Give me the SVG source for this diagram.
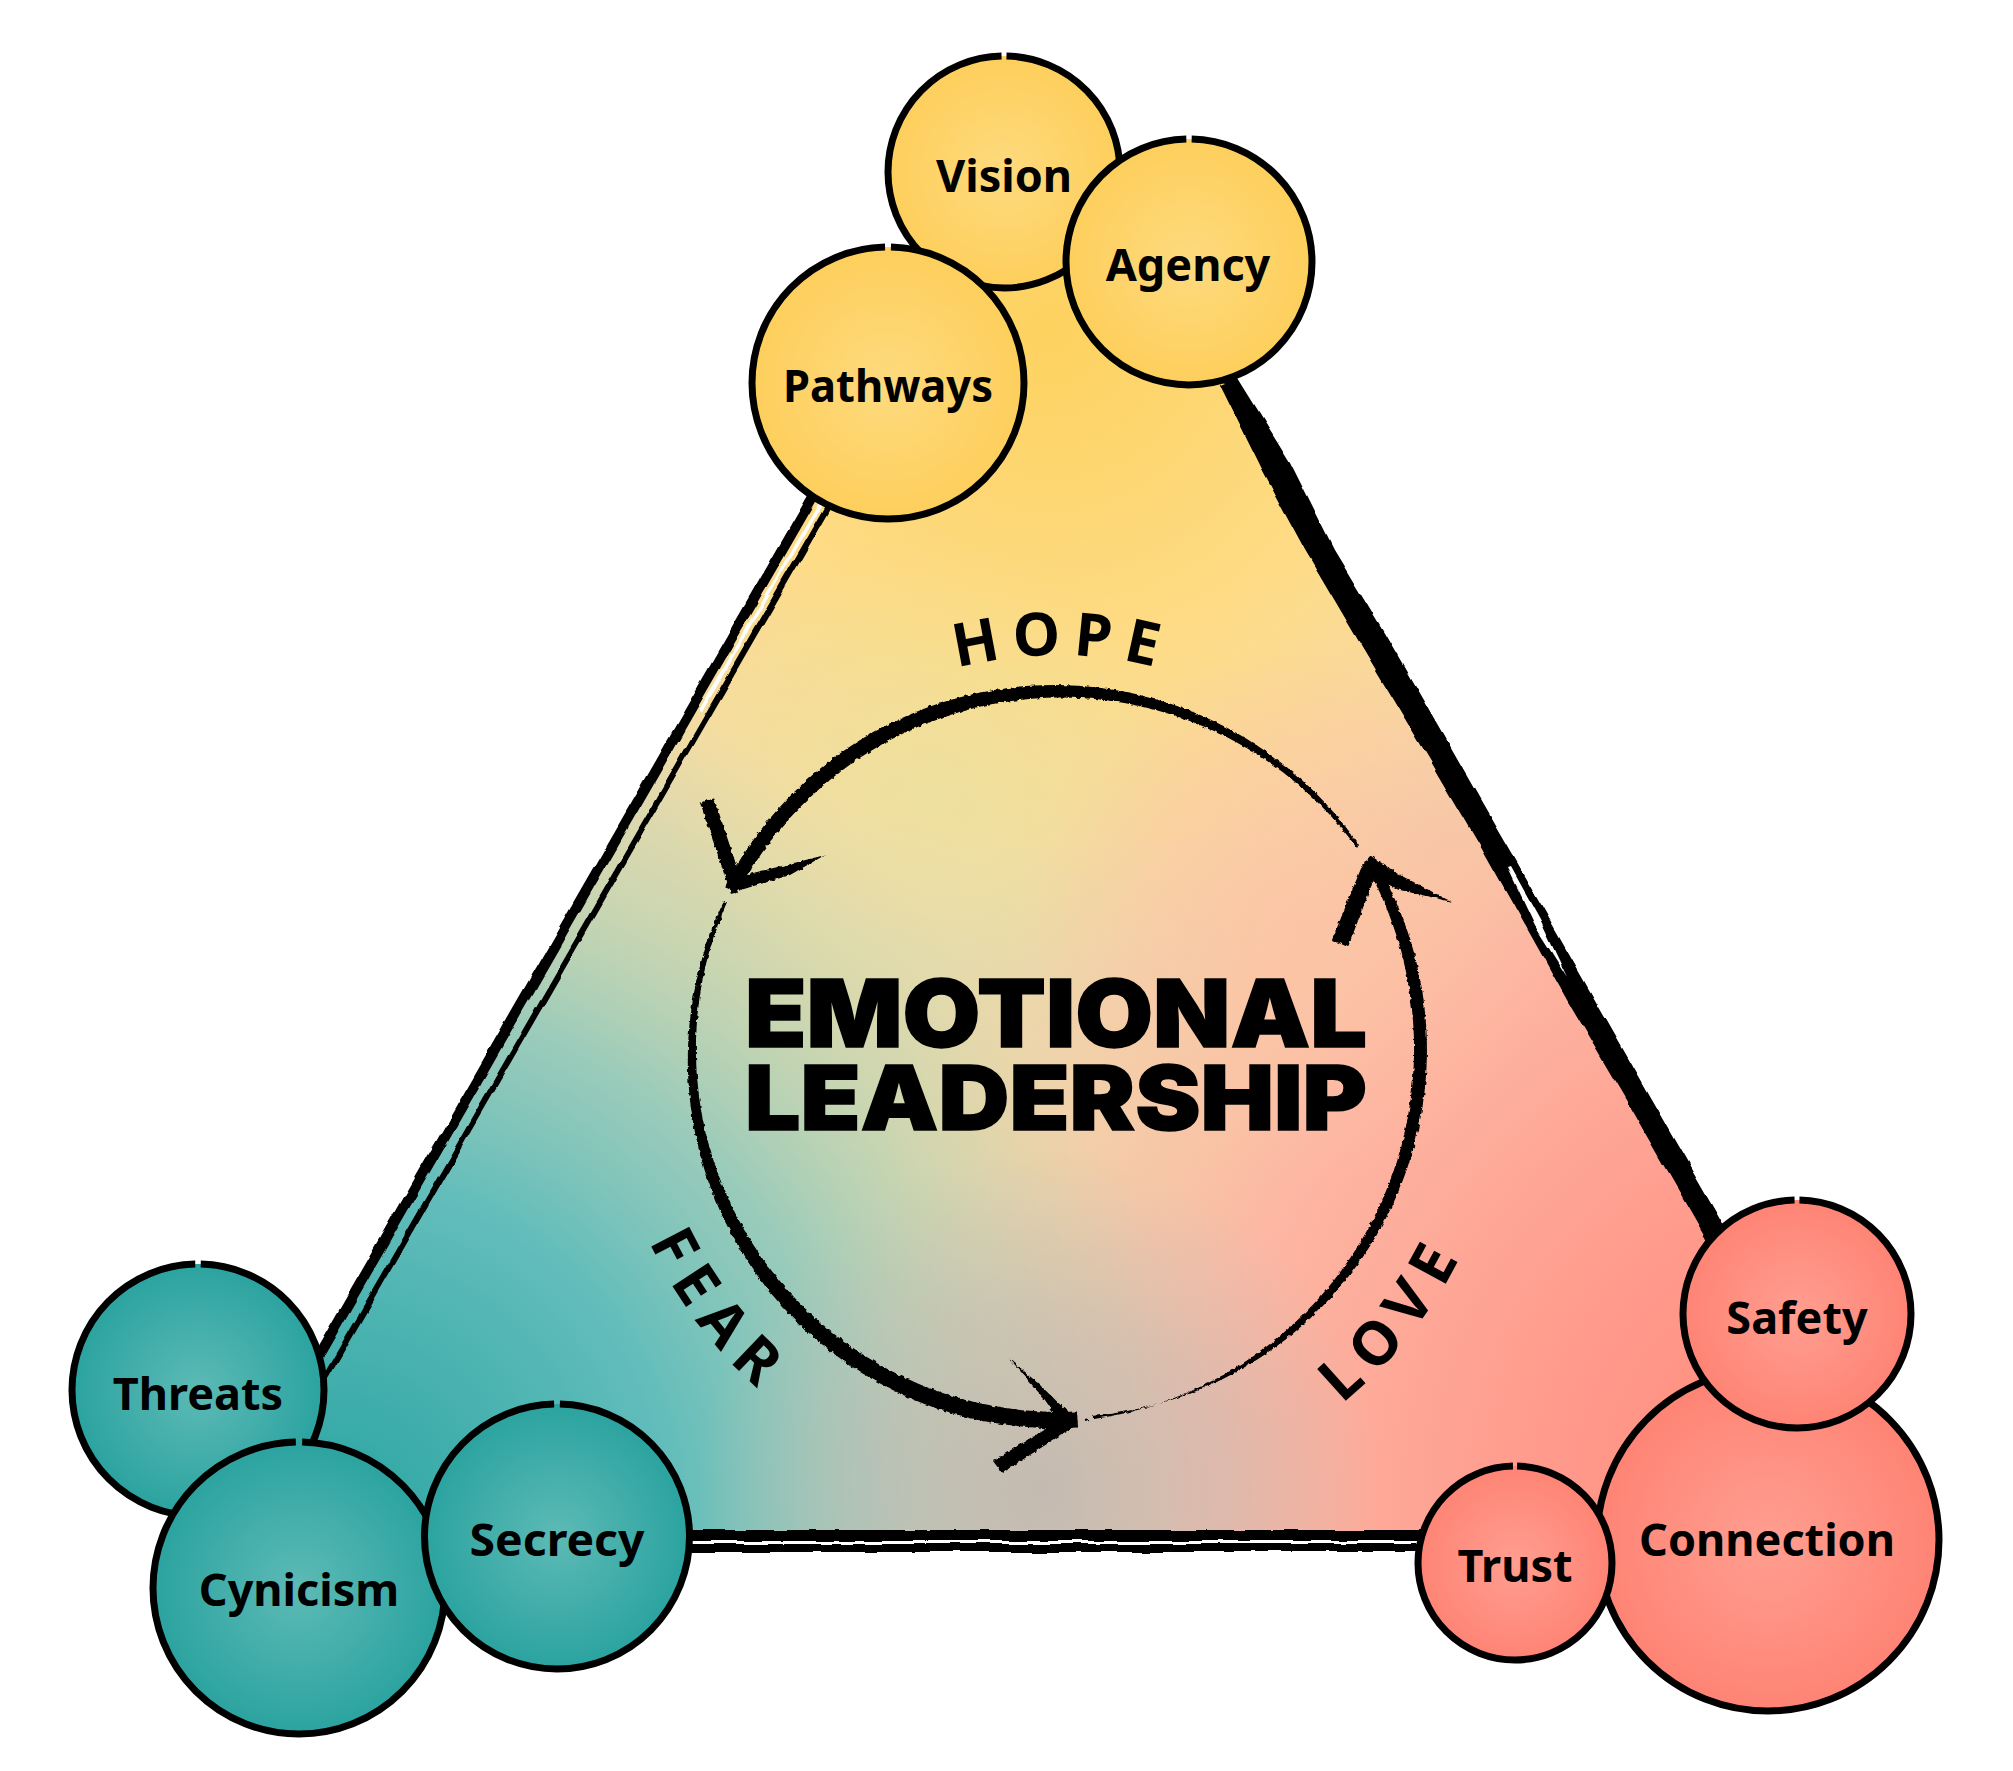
<svg xmlns="http://www.w3.org/2000/svg" width="2013" height="1771" viewBox="0 0 2013 1771">
<style>
.c{stroke:#000;stroke-width:7;stroke-dasharray:99.3 .7;stroke-dashoffset:24.65}
.l{font-family:"Noto Sans","DejaVu Sans",sans-serif;font-weight:700;font-size:45px;fill:#000;text-anchor:middle}
.a{font-family:"Noto Sans","DejaVu Sans",sans-serif;font-weight:700;font-size:60px;letter-spacing:12px;fill:#000;text-anchor:middle}
.t{font-family:Inter,"Liberation Sans",sans-serif;font-weight:900;fill:#000;stroke:#000;stroke-width:1.5px}
.k{fill:#000}
.e{fill:none;stroke:#000}
</style>
<defs>
<polygon id="tri" points="1053,81 1888,1536 215,1536"/>
<radialGradient id="gy" gradientUnits="userSpaceOnUse" cx="1050" cy="330" r="640"><stop offset="0" stop-color="#FDD25F"/><stop offset=".5" stop-color="#FEDB85"/><stop offset=".8" stop-color="#FBDD98" stop-opacity=".75"/><stop offset="1" stop-color="#F6DFA5" stop-opacity="0"/></radialGradient>
<radialGradient id="gs" gradientUnits="userSpaceOnUse" cx="1860" cy="1500" r="1050"><stop offset="0" stop-color="#FF8676"/><stop offset=".35" stop-color="#FF9E90"/><stop offset=".62" stop-color="#FFB3A2" stop-opacity=".9"/><stop offset=".85" stop-color="#FFC8A5" stop-opacity=".45"/><stop offset="1" stop-color="#FFD09A" stop-opacity="0"/></radialGradient>
<radialGradient id="gt" gradientUnits="userSpaceOnUse" cx="330" cy="1520" r="860"><stop offset="0" stop-color="#2BA5A2"/><stop offset=".4" stop-color="#62BDBB"/><stop offset=".62" stop-color="#8FC9BC" stop-opacity=".85"/><stop offset=".82" stop-color="#B5D4B3" stop-opacity=".45"/><stop offset="1" stop-color="#CFDAA8" stop-opacity="0"/></radialGradient>
<radialGradient id="gm" gradientUnits="userSpaceOnUse" cx="1040" cy="1490" r="340"><stop offset="0" stop-color="#C2B8B2" stop-opacity=".9"/><stop offset=".55" stop-color="#C4BCB4" stop-opacity=".55"/><stop offset="1" stop-color="#C8C0B4" stop-opacity="0"/></radialGradient>
<radialGradient id="gg" gradientUnits="userSpaceOnUse" cx="930" cy="790" r="260"><stop offset="0" stop-color="#E6E3A3" stop-opacity=".55"/><stop offset="1" stop-color="#E6E3A3" stop-opacity="0"/></radialGradient>
<radialGradient id="gp" gradientUnits="userSpaceOnUse" cx="1290" cy="920" r="270"><stop offset="0" stop-color="#FFC4A4" stop-opacity=".7"/><stop offset="1" stop-color="#FFC4A4" stop-opacity="0"/></radialGradient>
<radialGradient id="cy"><stop offset="0" stop-color="#FEDA7E"/><stop offset="1" stop-color="#FDCF5C"/></radialGradient>
<radialGradient id="ct"><stop offset="0" stop-color="#5DBAB5"/><stop offset="1" stop-color="#2BA3A0"/></radialGradient>
<radialGradient id="cs"><stop offset="0" stop-color="#FF9E90"/><stop offset="1" stop-color="#FE8475"/></radialGradient>
<filter id="rough" filterUnits="userSpaceOnUse" x="0" y="0" width="2013" height="1771"><feTurbulence type="fractalNoise" baseFrequency=".22" numOctaves="2" seed="4"/><feDisplacementMap in="SourceGraphic" scale="4" xChannelSelector="R" yChannelSelector="G"/></filter>
<filter id="wob" filterUnits="userSpaceOnUse" x="0" y="0" width="2013" height="1771"><feTurbulence type="fractalNoise" baseFrequency=".03" numOctaves="2" seed="9"/><feDisplacementMap in="SourceGraphic" scale="6" xChannelSelector="R" yChannelSelector="G"/></filter>
<path id="pHope" d="M659,1054 A399,399 0 0 1 1457,1054"/>
<path id="pFear" d="M649,867 A450,450 0 0 0 1100,1502"/>
<path id="pLove" d="M995,1500 A450,450 0 0 0 1475,885"/>
</defs>

<g id="triangle">
<use href="#tri" fill="#E6D9AE"/>
<use href="#tri" fill="url(#gy)"/>
<use href="#tri" fill="url(#gs)"/>
<use href="#tri" fill="url(#gt)"/>
<use href="#tri" fill="url(#gm)"/>
<use href="#tri" fill="url(#gg)"/>
<use href="#tri" fill="url(#gp)"/>
</g>

<g id="connectors">
<g id="triangle-edges" filter="url(#wob)">
<path class="e" stroke-width="10" d="M817,490 L316,1360"/>
<path class="e" stroke-width="6" d="M835,495 L321,1385"/>
<path fill="none" stroke="#fff" stroke-width="3.5" d="M826,495 L700,712"/>
<polygon class="k" points="1238,378 1290,462 1334,550 1380,626 1423,700 1480,800 1538,900 1595,1000 1652,1100 1744,1260 1718,1260 1626,1100 1567,1000 1483,850 1430,760 1394,700 1358,640 1305,550 1262,470 1220,385"/>
<polygon fill="#fff" points="1507,867 1510,866 1540,920 1567,977 1535,926"/>
<path class="e" stroke-width="11" d="M680,1535.5 L1430,1535.5"/>
<path class="e" stroke-width="8" d="M680,1548 L1430,1548"/>
</g>
<g id="cycle" filter="url(#rough)">
<path class="k" d="M1359,845 A370,370 0 0 0 724.8,886.9 L737.3,893.2 A366,366 0 0 1 1357,848Z"/>
<path class="k" d="M1092,1416 A368,368 0 0 0 1372.6,857 L1364,862 A374,374 0 0 1 1094,1419Z"/>
<path class="k" d="M724,901 A368,368 0 0 0 1078,1427.5 L1077,1411.5 A363,363 0 0 1 727,902Z"/>
<polygon class="k" points="700,803 714,798 742,882 731,893"/>
<polygon class="k" points="731,893 745,875 790,864 825,855 790,875"/>
<polygon class="k" points="1371,856 1379,866 1348,947 1332,940 1362,866"/>
<polygon class="k" points="1371,856 1400,875 1452,902 1400,890 1372,877"/>
<polygon class="k" points="1009,1358 1040,1385 1078,1422 1062,1425 1045,1400"/>
<polygon class="k" points="1078,1424 1002,1473 993,1461 1050,1426"/>
<path class="e" stroke-width="2" d="M1085,1420 l4,-1 M721,915 l-2,9 M1352,840 l3,4"/>
</g>
</g>

<g id="title">
<text class="t" x="745" y="1047" font-size="93" textLength="622" lengthAdjust="spacingAndGlyphs">EMOTIONAL</text>
<text class="t" x="745" y="1130" font-size="90" textLength="622" lengthAdjust="spacingAndGlyphs">LEADERSHIP</text>
</g>
<g id="label-hope"><text class="a"><textPath href="#pHope" startOffset="630">HOPE</textPath></text></g>
<g id="label-fear"><text class="a"><textPath href="#pFear" startOffset="484">FEAR</textPath></text></g>
<g id="label-love"><text class="a"><textPath href="#pLove" startOffset="470">LOVE</textPath></text></g>

<g id="vision"><circle class="c" cx="1004" cy="172" r="116" fill="url(#cy)" pathLength="100"/><text class="l" x="1004" y="192">Vision</text></g>
<g id="pathways"><circle class="c" cx="888" cy="383" r="136" fill="url(#cy)" pathLength="100"/><text class="l" x="888" y="402" textLength="210" lengthAdjust="spacingAndGlyphs">Pathways</text></g>
<g id="agency"><circle class="c" cx="1189" cy="262" r="123" fill="url(#cy)" pathLength="100"/><text class="l" x="1188" y="281">Agency</text></g>
<g id="threats"><circle class="c" cx="198" cy="1390" r="126" fill="url(#ct)" pathLength="100"/><text class="l" x="198" y="1410">Threats</text></g>
<g id="cynicism"><circle class="c" cx="299" cy="1588" r="146" fill="url(#ct)" pathLength="100"/><text class="l" x="299" y="1606">Cynicism</text></g>
<g id="secrecy"><circle class="c" cx="557" cy="1536.5" r="132.5" fill="url(#ct)" pathLength="100"/><text class="l" x="557" y="1556" textLength="175" lengthAdjust="spacingAndGlyphs">Secrecy</text></g>
<g id="connection"><circle class="c" cx="1768" cy="1540" r="171" fill="url(#cs)" pathLength="100"/><text class="l" x="1767" y="1556">Connection</text></g>
<g id="safety"><circle class="c" cx="1797" cy="1314" r="114" fill="url(#cs)" pathLength="100"/><text class="l" x="1797" y="1334">Safety</text></g>
<g id="trust"><circle class="c" cx="1515" cy="1563" r="97" fill="url(#cs)" pathLength="100"/><text class="l" x="1515" y="1582">Trust</text></g>
</svg>
